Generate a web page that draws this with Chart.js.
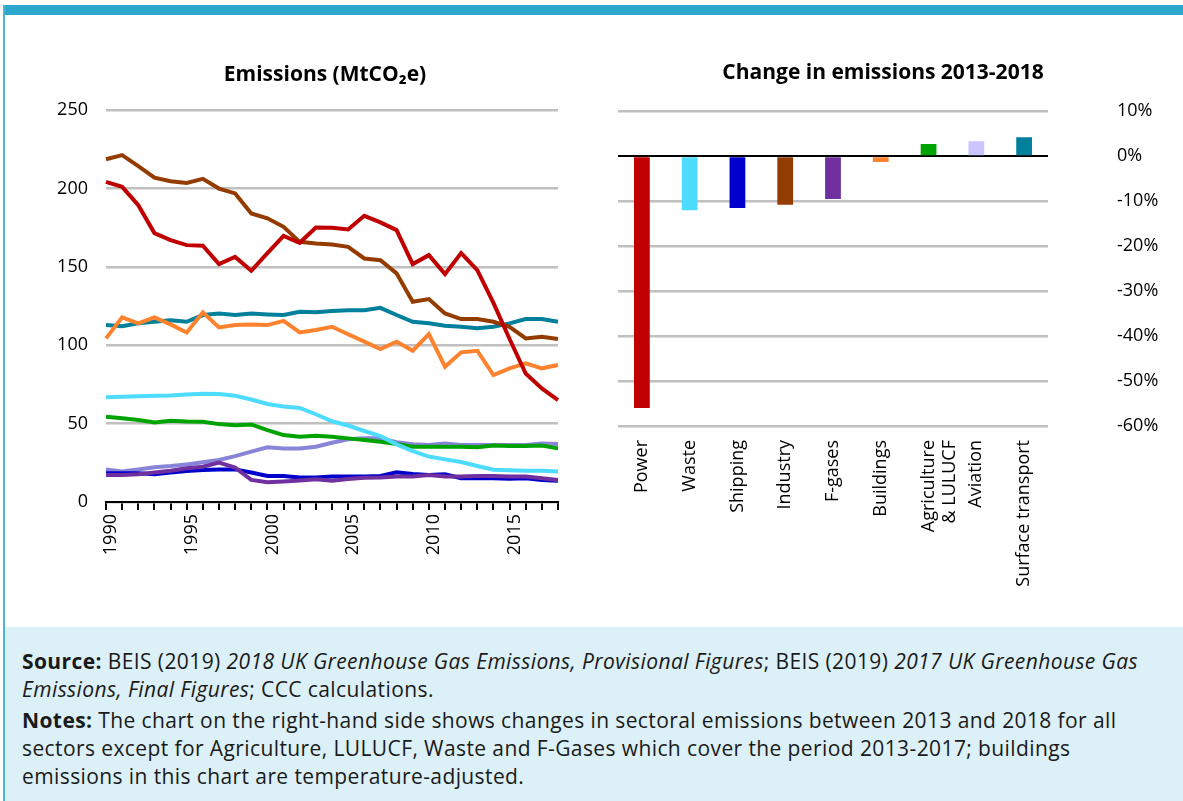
<!DOCTYPE html>
<html>
<head>
<meta charset="utf-8">
<script src="https://cdn.jsdelivr.net/npm/chart.js@4.4.0/dist/chart.umd.min.js"></script>
<style>
  body { margin: 0; width: 1183px; height: 801px; overflow: hidden; background: #fff; position: relative; font-family: 'Open Sans', sans-serif; }
  #band { position: absolute; left: 3px; top: 5px; width: 1180px; height: 10px; background: #2CA8CE; }
  #edge { position: absolute; left: 3px; top: 5px; width: 2px; height: 796px; background: #4DB6D8; }
  #cLeft { position: absolute; left: 40px; top: 60px; }
  #cRight { position: absolute; left: 600px; top: 58px; }
  #notes { position: absolute; left: 5px; top: 627px; width: 1178px; height: 174px; background: #DCF0F7; color: #1a1a1a;
           font-size: 21px; letter-spacing: 0.4px; line-height: 28px; padding: 20px 0 0 17px; box-sizing: border-box; white-space: nowrap; }
  #notes .p2 { margin-top: 3px; }
</style>
</head>
<body>
<div id="band"></div>
<div id="edge"></div>
<canvas id="cLeft" width="570" height="520"></canvas>
<canvas id="cRight" width="566" height="560"></canvas>
<div id="notes">
  <div><b>Source:</b> BEIS (2019) <i>2018 UK Greenhouse Gas Emissions, Provisional Figures</i>; BEIS (2019) <i>2017 UK Greenhouse Gas</i></div>
  <div><i>Emissions, Final Figures</i>; CCC calculations.</div>
  <div class="p2"><b>Notes:</b> The chart on the right-hand side shows changes in sectoral emissions between 2013 and 2018 for all</div>
  <div>sectors except for Agriculture, LULUCF, Waste and F-Gases which cover the period 2013-2017; buildings</div>
  <div>emissions in this chart are temperature-adjusted.</div>
</div>
<script>
// emissions by sector, MtCO2e
const years = ['1990','1991','1992','1993','1994','1995','1996','1997','1998','1999',
  '2000','2001','2002','2003','2004','2005','2006','2007','2008','2009',
  '2010','2011','2012','2013','2014','2015','2016','2017','2018'];
const power     = [204.3,201.1,189.4,171.6,167.1,163.9,163.5,151.8,156.4,147.5,158.8,169.8,165.4,175.2,175.0,173.9,182.6,178.4,173.5,151.8,157.5,145.4,158.8,148.0,127.0,104.0,82.0,72.5,65.0];
const industry  = [218.7,221.3,214.3,207.0,204.7,203.6,206.2,200.0,196.9,184.1,181.0,175.6,166.0,165.0,164.3,162.8,155.4,154.3,145.9,127.8,129.5,120.3,116.7,116.7,115.0,111.8,104.4,105.4,104.0];
const surface   = [112.9,112.2,114.0,115.0,116.0,115.0,119.3,120.3,119.3,120.3,119.7,119.3,121.4,121.0,121.8,122.4,122.4,123.9,119.3,115.0,114.0,112.5,111.8,110.8,111.8,114.0,116.7,116.7,115.0];
const buildings = [104.4,117.8,114.0,117.8,113.3,108.2,121.0,111.4,112.9,113.3,112.9,115.6,108.2,109.7,111.8,107.0,102.3,97.6,102.3,96.5,107.1,86.3,95.5,96.5,81.0,85.3,88.5,85.3,87.4];
const waste     = [66.8,67.2,67.4,67.8,68.0,68.6,69.1,68.9,67.8,65.4,62.5,61.0,60.0,56.0,51.5,48.8,45.3,42.0,36.8,32.5,29.0,27.2,25.5,23.0,20.6,20.2,20.0,19.9,19.4];
const agri      = [54.4,53.4,52.3,50.8,51.9,51.4,51.2,49.7,48.9,49.5,45.9,42.7,41.7,42.3,41.7,40.6,39.5,38.5,37.0,35.3,35.3,35.3,35.3,34.9,36.0,35.7,35.7,36.0,34.2];
const aviation  = [20.8,19.4,20.8,22.1,22.9,24.0,25.3,26.8,29.3,32.1,34.9,34.2,34.2,35.3,37.8,40.0,40.6,40.6,38.1,36.8,36.4,37.4,36.4,36.4,36.4,36.4,36.4,37.4,37.0];
const shipping  = [18.3,18.3,18.3,17.7,18.8,19.8,20.4,20.8,20.8,18.8,16.6,16.6,15.7,15.7,16.2,16.2,16.2,16.6,18.9,17.9,17.3,17.7,15.2,15.2,15.2,14.8,15.2,14.1,13.5];
const fgases    = [17.2,17.2,17.7,18.8,20.0,21.5,22.5,25.1,21.9,14.1,12.6,13.1,13.7,14.5,13.5,14.7,15.5,15.7,16.2,16.2,17.2,16.2,16.2,16.6,16.6,16.2,16.2,15.2,14.1];

// change in emissions 2013-2018, %
const sectors = ['Power','Waste','Shipping','Industry','F-gases','Buildings',['Agriculture','& LULUCF'],'Aviation','Surface transport'];
const change  = [-56, -12, -11.5, -10.8, -9.5, -1.3, 2.7, 3.3, 4.2];

const cPower = '#C00000', cIndustry = '#943C00', cSurface = '#00809A', cBuildings = '#FF822E',
      cWaste = '#4DDBFF', cAgri = '#00A300', cAviation = '#8884D8', cShipping = '#0000CC', cFgas = '#7030A0';

const baseFont = 'Open Sans';
const titleFont = {family: baseFont, size: 21, weight: 'bold'};
const tickFont = {family: baseFont, size: 18};

function line(data, color) {
  return {data: data, borderColor: color, backgroundColor: color, borderWidth: 4, pointRadius: 0, tension: 0, fill: false};
}

// empty axis used only as a spacer, so the title stays centred on the whole canvas
function spacer(pos, w) {
  return {position: pos, display: true, grid: {display: false}, border: {display: false},
          ticks: {display: false}, afterFit: s => { s.width = w; }};
}

new Chart(document.getElementById('cLeft'), {
  type: 'line',
  data: {
    labels: years,
    datasets: [
      line(power, cPower),
      line(industry, cIndustry),
      line(buildings, cBuildings),
      line(surface, cSurface),
      line(waste, cWaste),
      line(agri, cAgri),
      line(fgases, cFgas),
      line(shipping, cShipping),
      line(aviation, cAviation)
    ]
  },
  options: {
    responsive: false,
    animation: false,
    layout: {padding: 0},
    plugins: {
      legend: {display: false},
      tooltip: {enabled: false},
      title: {display: true, text: 'Emissions (MtCO₂e)', color: '#000', font: titleFont, padding: {top: 2, bottom: 23}}
    },
    scales: {
      x: {
        offset: false,
        grid: {drawOnChartArea: false, drawTicks: true, tickLength: 8, color: '#000', lineWidth: 2},
        border: {display: true, color: '#000', width: 2},
        ticks: {
          autoSkip: false, minRotation: 90, maxRotation: 90, padding: 4, labelOffset: 5, color: '#000',
          font: tickFont,
          callback: (v, i) => (Number(years[i]) % 5 === 0 ? years[i] : '')
        },
        afterFit: s => { s.height = 78; }
      },
      y: {
        min: 0, max: 250,
        ticks: {stepSize: 50, padding: 18, color: '#000', font: tickFont},
        grid: {color: '#C0C0C0', lineWidth: 2.5, drawTicks: false},
        border: {display: false},
        afterFit: s => { s.width = 66; }
      },
      pad: spacer('right', 52)
    }
  }
});

const barColors = [cPower, cWaste, cShipping, cIndustry, cFgas, cBuildings, cAgri, '#C9C6FF', cSurface];

new Chart(document.getElementById('cRight'), {
  type: 'bar',
  data: {
    labels: sectors,
    datasets: [{data: change, backgroundColor: barColors, barPercentage: 0.33, categoryPercentage: 1}]
  },
  options: {
    responsive: false,
    animation: false,
    layout: {padding: 0},
    plugins: {
      legend: {display: false},
      tooltip: {enabled: false},
      title: {display: true, text: 'Change in emissions 2013-2018', color: '#000', font: titleFont, padding: {top: 2, bottom: 26}}
    },
    scales: {
      x: {
        grid: {display: false},
        border: {display: false},
        ticks: {autoSkip: false, minRotation: 90, maxRotation: 90, padding: 6, color: '#000', font: tickFont},
        afterFit: s => { s.height = 192; }
      },
      y: {
        position: 'right',
        min: -60, max: 10,
        ticks: {stepSize: 10, padding: 9, color: '#000', font: tickFont, callback: v => v + '%'},
        grid: {
          drawTicks: true,
          tickLength: 60,
          tickColor: 'rgba(0,0,0,0)',
          color: c => (c.tick.value === 0 ? '#000' : '#C0C0C0'),
          lineWidth: c => (c.tick.value === 0 ? 2 : 2.5)
        },
        border: {display: false},
        afterFit: s => { s.width = 118; }
      },
      pad: spacer('left', 18)
    }
  }
});
</script>
</body>
</html>
